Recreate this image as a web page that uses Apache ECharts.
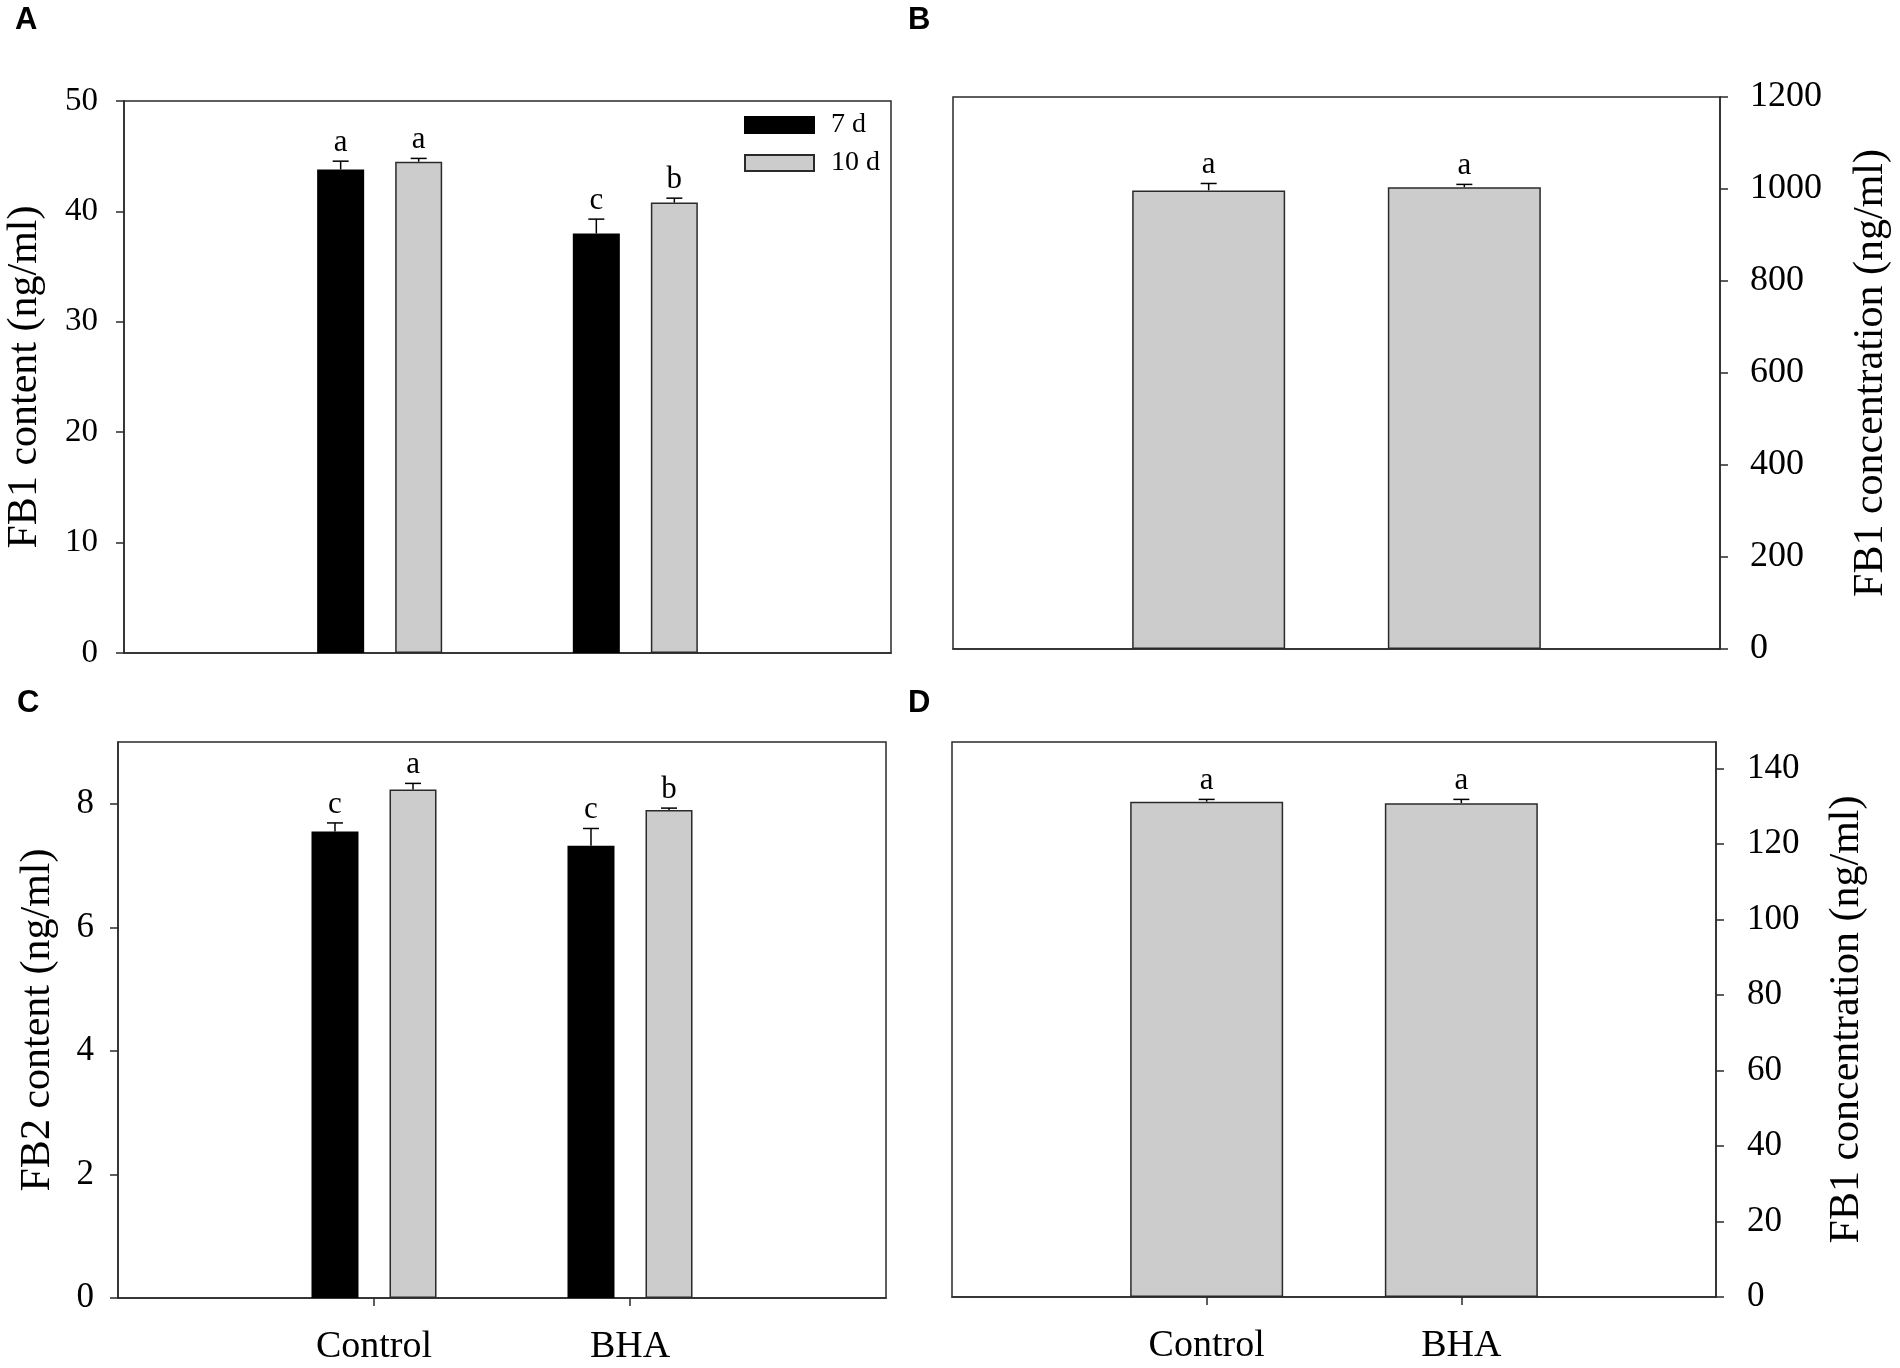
<!DOCTYPE html>
<html>
<head>
<meta charset="utf-8">
<script src="https://cdn.jsdelivr.net/npm/echarts@6/dist/echarts.min.js"></script>
<style>
html,body{margin:0;padding:0;background:#fff;}
#chart{width:1900px;height:1368px;}
</style>
</head>
<body>
<div id="chart"></div>
<script>
// ---------- data ----------
const categories = ['Control', 'BHA'];
const seriesNames = ['7 d', '10 d'];

// Panel A: FB1 content (ng/ml)
const fb1Content7d = [43.8, 38.0];
const fb1Content7dErr = [0.75, 1.3];
const fb1Content7dLetters = ['a', 'c'];
const fb1Content10d = [44.5, 40.8];
const fb1Content10dErr = [0.3, 0.4];
const fb1Content10dLetters = ['a', 'b'];

// Panel B: FB1 concentration (ng/ml)
const fb1ConcB = [997, 1004];
const fb1ConcBErr = [15, 6];
const fb1ConcBLetters = ['a', 'a'];

// Panel C: FB2 content (ng/ml)
const fb2Content7d = [7.55, 7.32];
const fb2Content7dErr = [0.14, 0.28];
const fb2Content7dLetters = ['c', 'c'];
const fb2Content10d = [8.23, 7.90];
const fb2Content10dErr = [0.10, 0.03];
const fb2Content10dLetters = ['a', 'b'];

// Panel D: FB1 concentration (ng/ml)
const fb1ConcD = [131.2, 130.8];
const fb1ConcDErr = [0.6, 1.0];
const fb1ConcDLetters = ['a', 'a'];

const yTicksA = [0, 10, 20, 30, 40, 50];
const yTicksB = [0, 200, 400, 600, 800, 1000, 1200];
const yTicksC = [0, 2, 4, 6, 8];
const yTicksD = [0, 20, 40, 60, 80, 100, 120, 140];

// ---------- styles ----------
const SERIF = '"Liberation Serif", "Times New Roman", serif';
const LINE = '#2a2a2a';
const GREY = '#cccccc';
const pairBarW = 47, pairGap = 0.66;
const singleBarW = 153;

const axisCats = [''].concat(categories, ['']);

function xAxisCfg(gridIndex, showLabels) {
  return {
    type: 'category', gridIndex: gridIndex, data: axisCats, boundaryGap: false,
    axisLine: {lineStyle: {color: LINE, width: 1.5}},
    axisTick: {show: showLabels, length: 8, interval: function (i) { return i === 1 || i === 2; },
               lineStyle: {color: LINE, width: 1.5}},
    axisLabel: {show: showLabels, interval: 0, margin: 30, color: '#000', fontSize: 38, fontFamily: SERIF},
    splitLine: {show: false}
  };
}

function yAxisCfg(gridIndex, pos, max, interval, ticks, name, nameGap, labelSize, labelMargin) {
  return {
    type: 'value', gridIndex: gridIndex, position: pos, min: 0, max: max, interval: interval,
    name: name, nameLocation: 'middle', nameGap: nameGap,
    nameTextStyle: {color: '#000', fontSize: 42, fontFamily: SERIF},
    axisLine: {show: true, lineStyle: {color: LINE, width: 1.5}},
    axisTick: {show: true, length: 8, customValues: ticks, lineStyle: {color: LINE, width: 1.5}},
    axisLabel: {color: '#000', fontSize: labelSize, fontFamily: SERIF, margin: labelMargin, customValues: ticks,
                formatter: function (v) { return String(v); }},
    splitLine: {show: false}
  };
}

function barSeries(name, idx, values, color, barW, gap) {
  return {
    type: 'bar', name: name, xAxisIndex: idx, yAxisIndex: idx,
    data: values.map(function (v, i) { return [i + 1, v]; }),
    barWidth: barW, barGap: (gap * 100) + '%',
    itemStyle: {color: color, borderColor: color === '#000' ? '#000' : LINE, borderWidth: 1.5},
    z: 2
  };
}

function errSeries(name, idx, values, errs, letters, offset) {
  return {
    type: 'custom', name: name, xAxisIndex: idx, yAxisIndex: idx,
    data: values.map(function (v, i) { return [i + 1, v, errs[i]]; }),
    z: 5, silent: true,
    renderItem: function (params, api) {
      const x = api.value(0), v = api.value(1), e = api.value(2);
      const p0 = api.coord([x, v]);
      const p1 = api.coord([x, v + e]);
      const cx = p0[0] + offset;
      return {
        type: 'group',
        children: [
          {type: 'line', shape: {x1: cx, y1: p0[1], x2: cx, y2: p1[1]}, style: {stroke: '#000', lineWidth: 1.5}},
          {type: 'line', shape: {x1: cx - 8, y1: p1[1], x2: cx + 8, y2: p1[1]}, style: {stroke: '#000', lineWidth: 1.5}},
          {type: 'text', x: cx, y: p1[1] - 3,
           style: {text: letters[params.dataIndex], fill: '#000', fontSize: 31, fontFamily: SERIF,
                   align: 'center', verticalAlign: 'bottom'}}
        ]
      };
    }
  };
}

const pairOff = pairBarW * (1 + pairGap) / 2;

const gridBase = {show: true, borderColor: LINE, borderWidth: 1.5, backgroundColor: 'transparent', outerBoundsMode: 'none', containLabel: false};

const option = {
  animation: false,
  backgroundColor: '#fff',
  grid: [
    Object.assign({left: 124, top: 101, width: 767, height: 552}, gridBase),
    Object.assign({left: 953, top: 97, width: 767, height: 552}, gridBase),
    Object.assign({left: 118, top: 742, width: 768, height: 556}, gridBase),
    Object.assign({left: 952, top: 742, width: 764, height: 555}, gridBase)
  ],
  xAxis: [xAxisCfg(0, false), xAxisCfg(1, false), xAxisCfg(2, true), xAxisCfg(3, true)],
  yAxis: [
    yAxisCfg(0, 'left', 50, 10, yTicksA, 'FB1 content (ng/ml)', 78, 33, 26),
    yAxisCfg(1, 'right', 1200, 200, yTicksB, 'FB1 concentration (ng/ml)', 130, 36, 30),
    yAxisCfg(2, 'left', 9, 1, yTicksC, 'FB2 content (ng/ml)', 59, 35, 24),
    yAxisCfg(3, 'right', 147, 1, yTicksD, 'FB1 concentration (ng/ml)', 110, 35, 31)
  ],
  legend: {
    data: seriesNames, orient: 'vertical', left: 744, top: 111, padding: 0,
    itemWidth: 69, itemHeight: 16, itemGap: 10, icon: 'rect',
    textStyle: {color: '#000', fontSize: 28, fontFamily: SERIF, padding: [0, 0, 0, 12]},
    selectedMode: false
  },
  series: [
    barSeries(seriesNames[0], 0, fb1Content7d, '#000', pairBarW, pairGap),
    barSeries(seriesNames[1], 0, fb1Content10d, GREY, pairBarW, pairGap),
    errSeries('errA7', 0, fb1Content7d, fb1Content7dErr, fb1Content7dLetters, -pairOff),
    errSeries('errA10', 0, fb1Content10d, fb1Content10dErr, fb1Content10dLetters, pairOff),

    barSeries('FB1 B', 1, fb1ConcB, GREY, singleBarW, 0),
    errSeries('errB', 1, fb1ConcB, fb1ConcBErr, fb1ConcBLetters, 0),

    barSeries(seriesNames[0], 2, fb2Content7d, '#000', pairBarW, pairGap),
    barSeries(seriesNames[1], 2, fb2Content10d, GREY, pairBarW, pairGap),
    errSeries('errC7', 2, fb2Content7d, fb2Content7dErr, fb2Content7dLetters, -pairOff),
    errSeries('errC10', 2, fb2Content10d, fb2Content10dErr, fb2Content10dLetters, pairOff),

    barSeries('FB1 D', 3, fb1ConcD, GREY, singleBarW, 0),
    errSeries('errD', 3, fb1ConcD, fb1ConcDErr, fb1ConcDLetters, 0)
  ],
  graphic: [
    {type: 'text', left: 15, top: 5, style: {text: 'A', fill: '#000', font: 'bold 31px "Liberation Sans", Arial, sans-serif'}},
    {type: 'text', left: 908, top: 5, style: {text: 'B', fill: '#000', font: 'bold 31px "Liberation Sans", Arial, sans-serif'}},
    {type: 'text', left: 17, top: 688, style: {text: 'C', fill: '#000', font: 'bold 31px "Liberation Sans", Arial, sans-serif'}},
    {type: 'text', left: 908, top: 688, style: {text: 'D', fill: '#000', font: 'bold 31px "Liberation Sans", Arial, sans-serif'}}
  ]
};

const chart = echarts.init(document.getElementById('chart'), null, {renderer: 'canvas'});
chart.setOption(option);
</script>
</body>
</html>
